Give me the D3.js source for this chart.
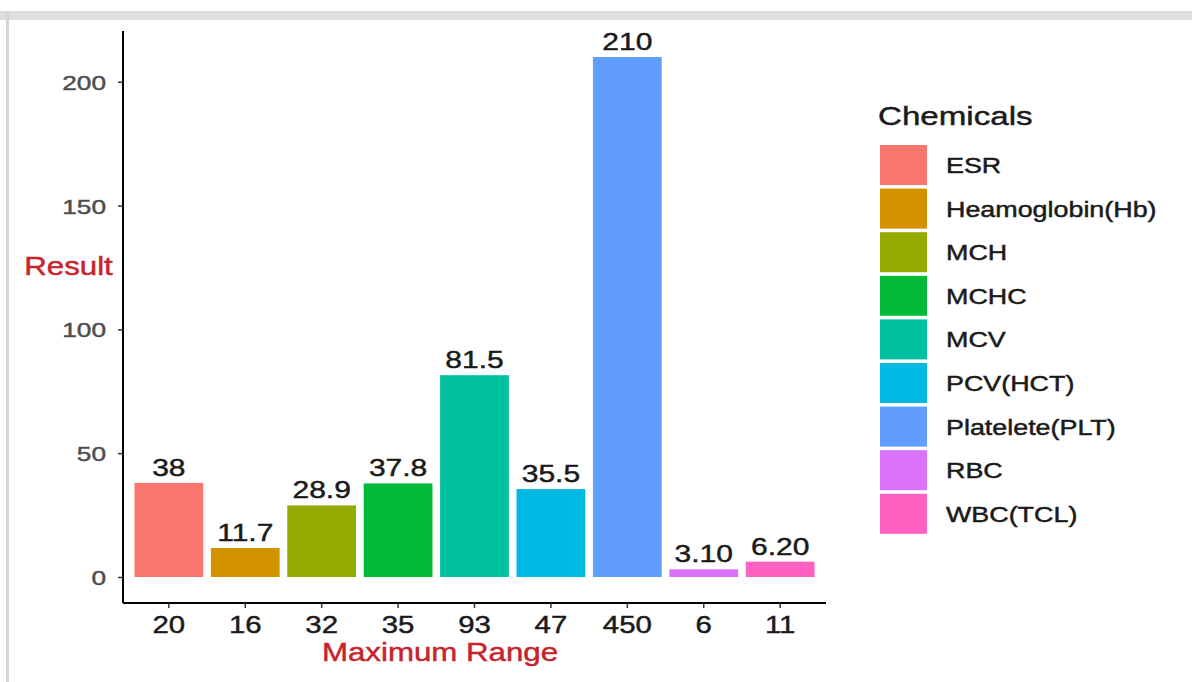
<!DOCTYPE html>
<html>
<head>
<meta charset="utf-8">
<script src="https://cdn.jsdelivr.net/npm/d3@7"></script>
<style>
  html, body { margin: 0; padding: 0; background: #fff; }
  svg { display: block; font-family: "Liberation Sans", Arial, sans-serif; }
  .t { stroke-width: 0.45px; }
</style>
</head>
<body>
<svg id="chart" width="1192" height="682"></svg>
<script>
// Blood test results per chemical, plotted against the maximum range
const chemicals = ["ESR", "Heamoglobin(Hb)", "MCH", "MCHC", "MCV", "PCV(HCT)", "Platelete(PLT)", "RBC", "WBC(TCL)"];
const maxRange = ["20", "16", "32", "35", "93", "47", "450", "6", "11"];
const resultLabels = ["38", "11.7", "28.9", "37.8", "81.5", "35.5", "210", "3.10", "6.20"];
const results = resultLabels.map(Number);
const palette = ["#F8766D", "#D39200", "#93AA00", "#00BA38", "#00C19F", "#00B9E3", "#619CFF", "#DB72FB", "#FF61C3"];
const yTicks = [0, 50, 100, 150, 200];

const svg = d3.select("#chart");
const SX = 1.25; // horizontal stretch applied to text glyphs

// Frame: grey band along the top and the left edge
svg.append("rect").attr("x", 0).attr("y", 11).attr("width", 1192).attr("height", 9).attr("fill", "#dedede");
svg.append("rect").attr("x", 6).attr("y", 11).attr("width", 3).attr("height", 671).attr("fill", "#d6d6d6");

const plotLeft = 123, plotRight = 826, plotTop = 31, plotBottom = 603;

const x = d3.scaleBand().domain(maxRange).range([plotLeft, plotRight]).paddingInner(0.1).paddingOuter(0.15);
const y = d3.scaleLinear().domain([-10.5, 220.5]).range([plotBottom, plotTop]);
const color = d3.scaleOrdinal().domain(chemicals).range(palette);

function textStyle(sel, size, fill) {
  return sel.attr("class", "t").attr("font-size", size).attr("fill", fill).attr("stroke", fill);
}
function stretchedText(g, tx, ty) {
  return g.attr("transform", `translate(${tx},${ty}) scale(${SX},1)`);
}

// Bars
const rows = chemicals.map((c, i) => ({ chem: c, range: maxRange[i], value: results[i], label: resultLabels[i] }));
svg.append("g").selectAll("rect").data(rows).join("rect")
  .attr("x", d => x(d.range))
  .attr("width", x.bandwidth())
  .attr("y", d => y(d.value))
  .attr("height", d => y(0) - y(d.value))
  .attr("fill", d => color(d.chem));

// Value labels above bars
const valueLabels = svg.append("g").selectAll("text").data(rows).join("text")
  .each(function(d) {
    stretchedText(d3.select(this), x(d.range) + x.bandwidth() / 2, y(d.value) - 7);
  })
  .attr("text-anchor", "middle")
  .text(d => d.label);
textStyle(valueLabels, 24, "#1a1a1a");

// Y axis
const yAxis = svg.append("g").attr("transform", `translate(${plotLeft},0)`)
  .call(d3.axisLeft(y).tickValues(yTicks).tickSize(5).tickPadding(4));
yAxis.attr("font-family", null);
yAxis.select(".domain").attr("d", `M0,${plotTop}V${plotBottom}`).attr("stroke", "#000").attr("stroke-width", 2);
yAxis.selectAll(".tick line").attr("stroke", "#333").attr("stroke-width", 1.5);
textStyle(yAxis.selectAll(".tick text"), 21, "#4d4d4d")
  .attr("x", null).attr("dy", null)
  .attr("text-anchor", "end").attr("dominant-baseline", "central")
  .attr("transform", `translate(-17,0) scale(${SX},1)`);

// X axis
const xAxis = svg.append("g").attr("transform", `translate(0,${plotBottom})`)
  .call(d3.axisBottom(x).tickSize(5).tickPadding(4));
xAxis.attr("font-family", null);
xAxis.select(".domain").attr("d", `M${plotLeft},0H${plotRight}`).attr("stroke", "#000").attr("stroke-width", 2);
xAxis.selectAll(".tick line").attr("stroke", "#333").attr("stroke-width", 1.5);
textStyle(xAxis.selectAll(".tick text"), 23.5, "#1a1a1a")
  .attr("y", null).attr("dy", null)
  .attr("transform", `translate(0,30) scale(${SX},1)`);

// Axis titles
textStyle(stretchedText(svg.append("text"), 440, 661), 25, "#C8232C")
  .attr("text-anchor", "middle")
  .text("Maximum Range");
textStyle(stretchedText(svg.append("text"), 68.5, 275), 25, "#C8232C")
  .attr("text-anchor", "middle")
  .text("Result");

// Legend
const legend = svg.append("g");
textStyle(stretchedText(legend.append("text"), 878, 125), 26.5, "#1a1a1a").text("Chemicals");
const keyStep = 43.6;
const items = legend.selectAll("g.item").data(chemicals).join("g").attr("class", "item")
  .attr("transform", (d, i) => `translate(880,${145 + i * keyStep})`);
items.append("rect").attr("width", 47).attr("height", 40).attr("fill", d => color(d));
textStyle(items.append("text"), 21.5, "#1a1a1a")
  .attr("transform", `translate(66,28) scale(${SX},1)`)
  .text(d => d);
</script>
</body>
</html>
